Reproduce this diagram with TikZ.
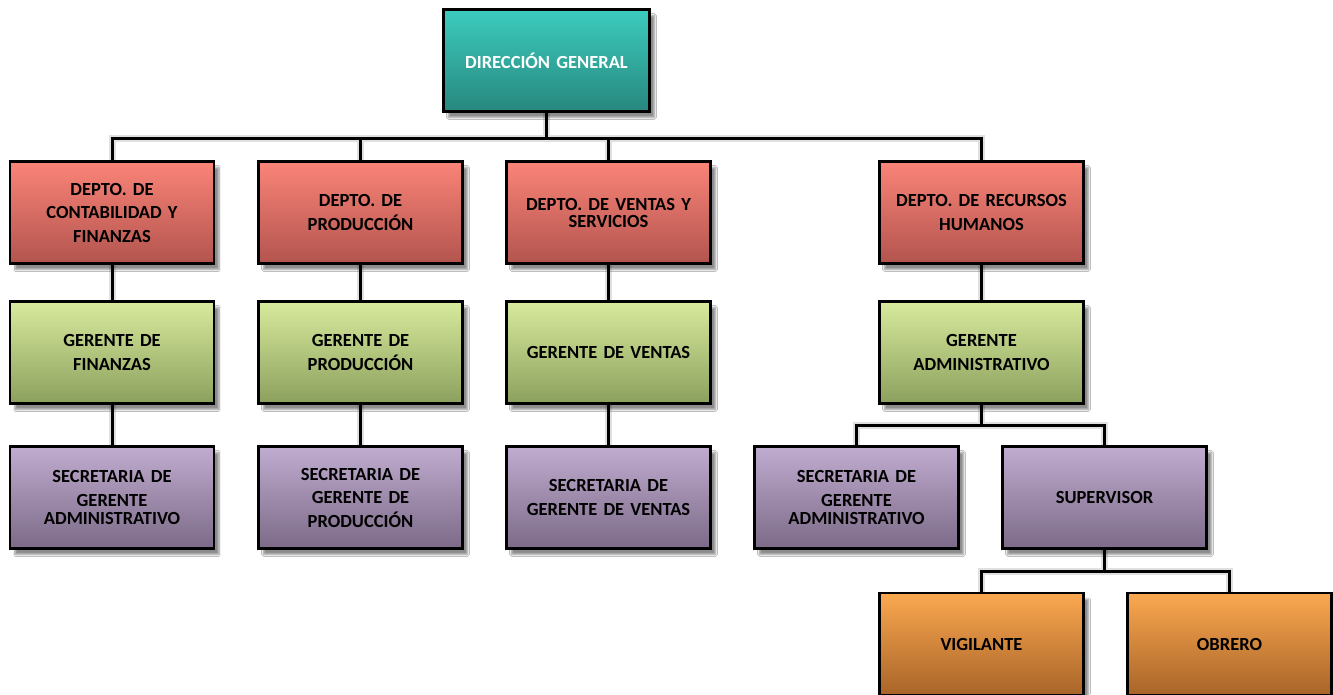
\documentclass[tikz,border=0pt]{standalone}
\usepackage{fontspec}
\setmainfont{Carlito}
\usetikzlibrary{shadows.blur,backgrounds}
\definecolor{tealT}{RGB}{60,204,190}
\definecolor{tealB}{RGB}{40,135,126}
\definecolor{redT}{RGB}{250,132,120}
\definecolor{redB}{RGB}{178,84,78}
\definecolor{grnT}{RGB}{216,234,156}
\definecolor{grnB}{RGB}{140,160,94}
\definecolor{purT}{RGB}{192,172,207}
\definecolor{purB}{RGB}{124,106,136}
\definecolor{orgT}{RGB}{251,168,80}
\definecolor{orgB}{RGB}{168,100,40}
\tikzset{
  box/.style={draw=black, line width=2.6pt, minimum width=204pt, minimum height=102pt,
    align=center, text width=196pt, inner sep=0pt,
    font=\fontsize{18.5}{23.5}\selectfont\bfseries,
    blur shadow={shadow xshift=5pt, shadow yshift=-6pt, shadow blur steps=8, shadow opacity=45}},
  tealbox/.style={box, top color=tealT, bottom color=tealB, text=white},
  redbox/.style={box, top color=redT, bottom color=redB},
  grnbox/.style={box, top color=grnT, bottom color=grnB},
  purbox/.style={box, top color=purT, bottom color=purB},
  orgbox/.style={box, top color=orgT, bottom color=orgB},
  conn/.style={line width=3pt, black, line join=miter},
  connshadow/.style={line width=7pt, black!12, line join=miter, shift={(4pt,-7pt)}}
}
\begin{document}
\begin{tikzpicture}[x=1pt,y=-1pt]
\clip (0,0) rectangle (1333,694);
% coordinates
\coordinate (b1) at (546.5,138);
\coordinate (b2) at (981.5,425);
\coordinate (b3) at (1104.5,571);
% nodes
\node[tealbox, minimum width=206pt] (top) at (546.5,60.5) {DIRECCIÓN GENERAL};
\node[redbox] (r1) at (112,212.5) {DEPTO. DE\\CONTABILIDAD Y\\FINANZAS};
\node[redbox] (r2) at (360.5,212.5) {DEPTO. DE\\PRODUCCIÓN};
\node[redbox] (r3) at (608.5,212.5) {DEPTO. DE VENTAS Y\\[-6.5pt]SERVICIOS};
\node[redbox] (r4) at (981.5,212.5) {DEPTO. DE RECURSOS\\HUMANOS};
\node[grnbox] (g1) at (112,352.5) {GERENTE DE\\FINANZAS};
\node[grnbox] (g2) at (360.5,352.5) {GERENTE DE\\PRODUCCIÓN};
\node[grnbox] (g3) at (608.5,352.5) {GERENTE DE VENTAS};
\node[grnbox] (g4) at (981.5,352.5) {GERENTE\\ADMINISTRATIVO};
\node[purbox] (p1) at (112,497.5) {SECRETARIA DE\\GERENTE\\[-5.5pt]ADMINISTRATIVO};
\node[purbox] (p2) at (360.5,497.5) {SECRETARIA DE\\GERENTE DE\\PRODUCCIÓN};
\node[purbox] (p3) at (608.5,497.5) {SECRETARIA DE\\GERENTE DE VENTAS};
\node[purbox] (p4) at (856.5,497.5) {SECRETARIA DE\\GERENTE\\[-5.5pt]ADMINISTRATIVO};
\node[purbox] (p5) at (1104.5,497.5) {SUPERVISOR};
\node[orgbox] (o1) at (981.5,644) {VIGILANTE};
\node[orgbox] (o2) at (1229.5,644) {OBRERO};
% connectors (behind the boxes)
\begin{pgfonlayer}{background}
\fill[white] (0,0) rectangle (1333,694);
\foreach \s in {connshadow, conn}{
  \draw[\s] (top.south) -- (b1);
  \draw[\s] (r1.north) -- (r1.north |- b1) -- (r4.north |- b1) -- (r4.north);
  \draw[\s] (r2.north) -- (r2.north |- b1);
  \draw[\s] (r3.north) -- (r3.north |- b1);
  \draw[\s] (r1.south) -- (g1.north);
  \draw[\s] (r2.south) -- (g2.north);
  \draw[\s] (r3.south) -- (g3.north);
  \draw[\s] (r4.south) -- (g4.north);
  \draw[\s] (g1.south) -- (p1.north);
  \draw[\s] (g2.south) -- (p2.north);
  \draw[\s] (g3.south) -- (p3.north);
  \draw[\s] (g4.south) -- (b2);
  \draw[\s] (p4.north) -- (p4.north |- b2) -- (p5.north |- b2) -- (p5.north);
  \draw[\s] (p5.south) -- (b3);
  \draw[\s] (o1.north) -- (o1.north |- b3) -- (o2.north |- b3) -- (o2.north);
}
\end{pgfonlayer}
\end{tikzpicture}
\end{document}
